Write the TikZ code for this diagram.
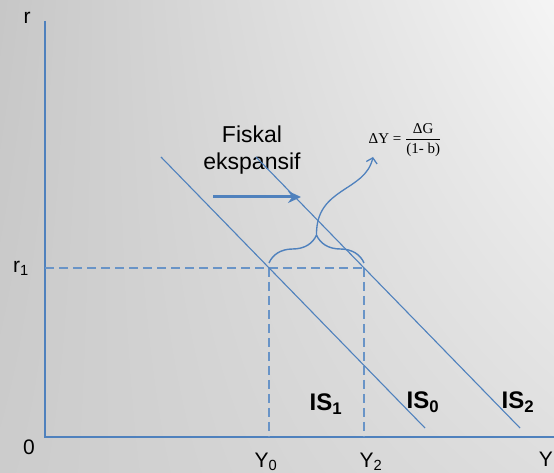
\documentclass[tikz,border=0pt]{standalone}
\usepackage{amsmath}
\usepackage{fontspec}
\setmainfont{Liberation Sans}
\newfontfamily\eqfont{Liberation Serif}
\usetikzlibrary{arrows.meta,decorations.pathreplacing,shadings}
\definecolor{isblue}{RGB}{79,129,189}

\begin{document}
\begin{tikzpicture}[
  x=1pt, y=1pt,
  >=Stealth,
  every node/.style={font=\fontsize{21}{25}\selectfont, inner sep=0pt},
  axis/.style={draw=isblue, line width=1.8pt},
  isline/.style={draw=isblue, line width=1.1pt},
  guide/.style={draw=isblue!85, line width=1.6pt, dash pattern=on 9pt off 5pt},
  islabel/.style={font=\fontsize{24}{28}\selectfont\bfseries},
  shiftarrow/.style={draw=isblue, line width=3pt, -{Stealth[length=13pt,width=12pt]}},
  bracket/.style={draw=isblue, line width=1.4pt, decorate,
                  decoration={brace, amplitude=28pt}},
  gainarrow/.style={draw=isblue, line width=1.3pt,
                    -{Straight Barb[length=5pt,width=11pt]}},
  formula/.style={font=\eqfont\fontsize{15}{18}\selectfont},
]
\useasboundingbox (-45,-36) rectangle (509,437);
\shade[upper left=black!22, upper right=black!4,
       lower left=black!20, lower right=black!13]
  (-45,-36) rectangle (509,437);

\coordinate (O)     at (0,0);
\coordinate (rtop)  at (0,416);
\coordinate (Yend)  at (509,0);
\coordinate (IS1a)  at (116,280);
\coordinate (IS1b)  at (380,9);
\coordinate (IS2a)  at (211,280);
\coordinate (IS2b)  at (475,9);
\coordinate (r1)    at (0,169);
\coordinate (E0)    at (224,169);
\coordinate (E2)    at (319,169);
\coordinate (Y0)    at (224,0);
\coordinate (Y2)    at (319,0);
\coordinate (shiftA) at (168,240);
\coordinate (shiftB) at (256,240);
\coordinate (tip)   at (271.5,203);
\coordinate (gain)  at (328,280);

\node (r)     at (-18,419) {r};
\node (zero)  at (-16,-10) {0};
\node (r1lab) at (-24,169) {r\textsubscript{1}};
\node (Y0lab) at (221,-25) {Y\textsubscript{0}};
\node (Y2lab) at (326,-25) {Y\textsubscript{2}};
\node[anchor=east] (Ylab) at (508,-22) {Y};

\node[islabel] (IS1lab) at (281,33) {IS\textsubscript{1}};
\node[islabel] (IS0lab) at (378,35) {IS\textsubscript{0}};
\node[islabel] (IS2lab) at (473,35) {IS\textsubscript{2}};

\node[align=center, font=\fontsize{23}{27}\selectfont] (fiskal) at (207,287)
  {Fiskal\\ekspansif};
\node[formula] (dY) at (360,297) {ΔY = $\dfrac{\text{ΔG}}{\text{(1- b)}}$};

\draw[axis] (rtop) -- (O) -- (Yend);
\draw[guide] (r1) -- (E2);
\draw[guide] (E0) -- (Y0);
\draw[guide] (E2) -- (Y2);
\draw[isline] (IS1a) -- (IS1b);
\draw[isline] (IS2a) -- (IS2b);
\draw[shiftarrow] (shiftA) -- (shiftB);
\draw[bracket] ([yshift=5pt]E0) -- ([yshift=5pt]E2);
\draw[gainarrow] (tip) .. controls +(0,47) and +(-8,-35) .. (gain);
\end{tikzpicture}
\end{document}
